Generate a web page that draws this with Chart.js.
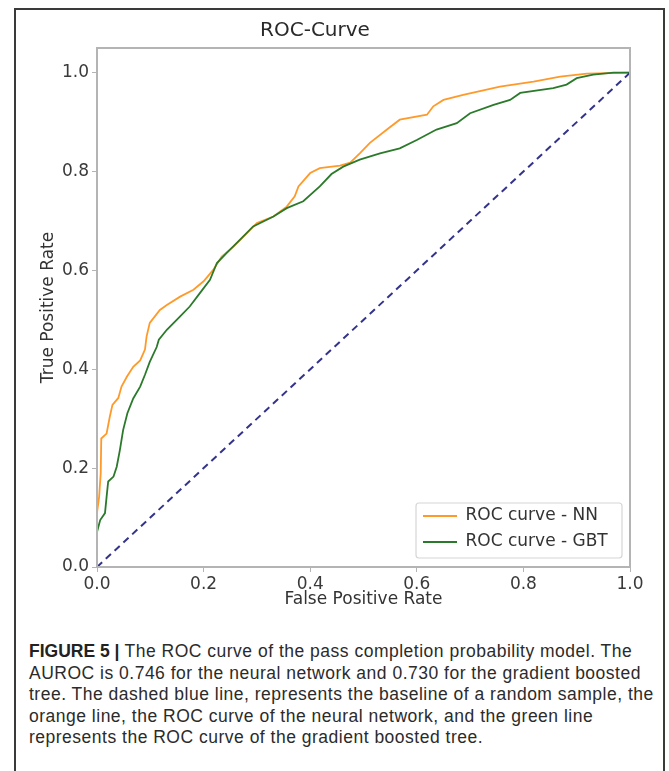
<!DOCTYPE html>
<html>
<head>
<meta charset="utf-8">
<script src="https://cdn.jsdelivr.net/npm/chart.js@4.4.1/dist/chart.umd.min.js"></script>
<style>
    html, body { margin: 0; padding: 0; background: #fff; }
    body { width: 669px; height: 771px; position: relative; overflow: hidden; }
    .frame {
        position: absolute; left: 14px; top: 8px; width: 651px; height: 800px;
        border: 2px solid #3a3a3a; box-sizing: border-box;
    }
    #rocChart { position: absolute; left: 0; top: 0; }
    .caption {
        position: absolute; left: 29px; top: 641px;
        font-family: "Liberation Sans", Arial, sans-serif; font-size: 17.5px;
        letter-spacing: 0.5px;
        line-height: 21.5px; color: #2b2b2b; white-space: nowrap;
    }
    .caption b { font-weight: bold; color: #222; letter-spacing: 0; }
</style>
</head>
<body>
<div class="frame"></div>
<canvas id="rocChart" width="669" height="630"></canvas>
<div class="caption">
    <b>FIGURE 5 |</b> The ROC curve of the pass completion probability model. The<br>
    AUROC is 0.746 for the neural network and 0.730 for the gradient boosted<br>
    tree. The dashed blue line, represents the baseline of a random sample, the<br>
    orange line, the ROC curve of the neural network, and the green line<br>
    represents the ROC curve of the gradient boosted tree.
</div>
<script>
// ROC curve - neural network
const fprNN = [0, 0, 0.004, 0.007, 0.008, 0.018, 0.024, 0.029, 0.040, 0.046, 0.056, 0.068, 0.081, 0.090, 0.093, 0.099,
    0.118, 0.131, 0.156, 0.181, 0.200, 0.218, 0.234, 0.256, 0.281, 0.300, 0.331, 0.356, 0.371, 0.378, 0.400, 0.418,
    0.456, 0.475, 0.493, 0.512, 0.544, 0.568, 0.619, 0.631, 0.650, 0.687, 0.756, 0.819, 0.869, 0.919, 1.0];
const tprNN = [0, 0.110, 0.142, 0.190, 0.260, 0.270, 0.304, 0.328, 0.342, 0.365, 0.385, 0.405, 0.418, 0.440, 0.466, 0.494,
    0.520, 0.530, 0.547, 0.561, 0.578, 0.601, 0.628, 0.648, 0.675, 0.696, 0.709, 0.729, 0.750, 0.770, 0.797, 0.807,
    0.812, 0.818, 0.837, 0.858, 0.885, 0.905, 0.915, 0.932, 0.945, 0.955, 0.972, 0.982, 0.992, 0.998, 1.0];

// ROC curve - gradient boosted tree
const fprGBT = [0, 0, 0.006, 0.015, 0.018, 0.021, 0.031, 0.037, 0.043, 0.049, 0.057, 0.068, 0.081, 0.090, 0.099, 0.112,
    0.116, 0.131, 0.156, 0.174, 0.193, 0.212, 0.225, 0.243, 0.268, 0.293, 0.331, 0.356, 0.387, 0.418, 0.440, 0.462,
    0.493, 0.531, 0.568, 0.600, 0.637, 0.675, 0.700, 0.744, 0.775, 0.794, 0.856, 0.881, 0.900, 0.931, 0.969, 1.0];
const tprGBT = [0, 0.071, 0.095, 0.109, 0.142, 0.173, 0.183, 0.203, 0.237, 0.277, 0.311, 0.341, 0.365, 0.389, 0.415, 0.445,
    0.460, 0.480, 0.507, 0.527, 0.554, 0.581, 0.615, 0.635, 0.662, 0.689, 0.709, 0.726, 0.740, 0.770, 0.795, 0.810,
    0.824, 0.837, 0.847, 0.864, 0.885, 0.898, 0.918, 0.935, 0.945, 0.959, 0.969, 0.976, 0.989, 0.996, 1.0, 1.0];

// random baseline
const baseX = [0, 1];
const baseY = [0, 1];

const seriesLabels = ['ROC curve - NN', 'ROC curve - GBT'];
const xTicks = [0, 0.2, 0.4, 0.6, 0.8, 1.0];
const yTicks = [0, 0.2, 0.4, 0.6, 0.8, 1.0];

const toPoints = (xs, ys) => xs.map((x, i) => ({ x: x, y: ys[i] }));

// box round the plot area (matplotlib spines)
const spinesPlugin = {
    id: 'spines',
    afterDatasetsDraw(chart) {
        const { ctx, chartArea: a } = chart;
        ctx.save();
        ctx.strokeStyle = '#b4b4b4';
        ctx.lineWidth = 2;
        ctx.strokeRect(a.left, a.top, a.right - a.left, a.bottom - a.top);
        ctx.restore();
    }
};

// legend sits in the lower right corner of the plot, inside a frame
const legendBoxPlugin = {
    id: 'legendBox',
    afterLayout(chart) {
        const lg = chart.legend;
        const a = chart.chartArea;
        const w = 206, h = 55;
        lg.left = a.right - 8 - w - 2;
        lg.right = lg.left + w;
        lg.top = a.bottom - 9 - h - 4.5;
        lg.bottom = lg.top + 200;
        lg.width = w;
        lg.height = 200;
        chart.$legendFrame = { x: a.right - 8 - w, y: a.bottom - 9 - h, w: w, h: h };
    },
    beforeDraw(chart) {
        const f = chart.$legendFrame;
        if (!f) return;
        const ctx = chart.ctx;
        ctx.save();
        ctx.fillStyle = 'rgba(255,255,255,0.9)';
        ctx.strokeStyle = '#d6d6d6';
        ctx.lineWidth = 1.2;
        ctx.beginPath();
        ctx.roundRect(f.x, f.y, f.w, f.h, 3);
        ctx.fill();
        ctx.stroke();
        ctx.restore();
    }
};

const tickFont = { family: 'DejaVu Sans', size: 17 };

new Chart(document.getElementById('rocChart').getContext('2d'), {
    type: 'scatter',
    data: {
        datasets: [
            {
                label: seriesLabels[0],
                data: toPoints(fprNN, tprNN),
                showLine: true,
                borderColor: '#ff9a2a',
                backgroundColor: '#ff9a2a',
                borderWidth: 1.8,
                pointRadius: 0,
                pointStyle: 'line',
                order: 2
            },
            {
                label: seriesLabels[1],
                data: toPoints(fprGBT, tprGBT),
                showLine: true,
                borderColor: '#2b7a2b',
                backgroundColor: '#2b7a2b',
                borderWidth: 1.8,
                pointRadius: 0,
                pointStyle: 'line',
                order: 1
            },
            {
                label: 'baseline',
                data: toPoints(baseX, baseY),
                showLine: true,
                borderColor: '#33338c',
                borderWidth: 2,
                borderDash: [7, 5],
                pointRadius: 0,
                order: 0
            }
        ]
    },
    options: {
        responsive: false,
        animation: false,
        layout: { padding: { left: 0, right: 39, top: 0, bottom: 10 } },
        plugins: {
            title: {
                display: true,
                text: 'ROC-Curve',
                color: '#2a2a2a',
                font: { family: 'DejaVu Sans', size: 20, weight: 'normal' },
                padding: { top: 19, bottom: 5 }
            },
            legend: {
                display: true,
                position: 'chartArea',
                align: 'start',
                labels: {
                    color: '#333',
                    font: { family: 'DejaVu Sans', size: 17 },
                    usePointStyle: true,
                    pointStyleWidth: 34,
                    padding: 9,
                    filter: item => item.datasetIndex < 2,
                    sort: (a, b) => a.datasetIndex - b.datasetIndex
                }
            },
            tooltip: { enabled: false }
        },
        scales: {
            x: {
                type: 'linear',
                min: 0,
                max: 1,
                afterFit: scale => { scale.height = 53; },
                afterBuildTicks: scale => { scale.ticks = xTicks.map(v => ({ value: v })); },
                ticks: {
                    color: '#3a3a3a',
                    font: tickFont,
                    padding: 2,
                    maxRotation: 0,
                    callback: v => v.toFixed(1)
                },
                grid: { drawOnChartArea: false, drawTicks: true, tickLength: 5, color: '#b4b4b4' },
                border: { display: false },
                title: {
                    display: true,
                    text: 'False Positive Rate',
                    color: '#333',
                    font: tickFont,
                    padding: { top: 0, bottom: 10 }
                }
            },
            y: {
                type: 'linear',
                min: 0,
                max: 1.05,
                afterFit: scale => { scale.width = 97; },
                afterBuildTicks: scale => { scale.ticks = yTicks.map(v => ({ value: v })); },
                ticks: {
                    color: '#3a3a3a',
                    font: tickFont,
                    padding: 3,
                    callback: v => v.toFixed(1)
                },
                grid: { drawOnChartArea: false, drawTicks: true, tickLength: 5, color: '#b4b4b4' },
                border: { display: false },
                title: {
                    display: true,
                    text: 'True Positive Rate',
                    color: '#333',
                    font: tickFont,
                    padding: { top: 38, bottom: 0 }
                }
            }
        }
    },
    plugins: [legendBoxPlugin, spinesPlugin]
});
</script>
</body>
</html>
